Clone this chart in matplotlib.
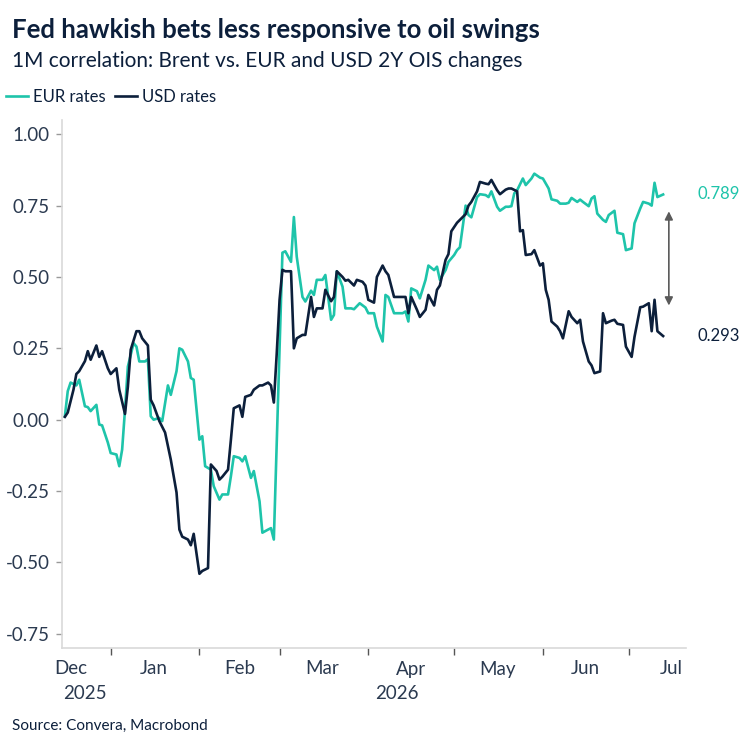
import matplotlib
matplotlib.use("Agg")
import matplotlib.pyplot as plt
import matplotlib.dates as mdates
import matplotlib.transforms as mtrans
import pandas as pd

plt.rcParams["font.family"] = ["Lato", "DejaVu Sans"]

START = pd.Timestamp("2025-12-15")

# days after 15 Dec 2025
usd_days = [1, 2, 4, 5, 6, 8, 9, 10, 12, 13, 14, 16, 17, 19, 20, 22, 23, 24, 26, 27,
            28, 30, 31, 32, 34, 36, 38, 40, 41, 42, 44, 45, 46, 48, 49, 51, 52, 54, 55, 56,
            58, 59, 60, 62, 63, 64, 66, 67, 69, 70, 72, 73, 74, 75, 76, 77, 78, 80, 81, 82,
            84, 85, 87, 88, 89, 91, 92, 94, 95, 96, 98, 99, 100, 102, 103, 105, 106, 107, 109, 110,
            112, 113, 114, 116, 117, 119, 120, 121, 122, 124, 125, 127, 128, 130, 131, 132, 134, 135, 136, 138,
            139, 141, 142, 143, 145, 146, 148, 149, 150, 152, 153, 155, 156, 157, 159, 160, 161, 162, 164, 165,
            167, 168, 169, 170, 171, 173, 174, 175, 177, 178, 180, 181, 182, 184, 185, 186, 188, 189, 190, 192,
            193, 194, 196, 197, 199, 200, 202, 203, 205, 206, 207, 208, 210]
usd_vals = [0.01, 0.025, 0.105, 0.16, 0.17, 0.205, 0.24, 0.21, 0.26, 0.22, 0.24, 0.18, 0.16, 0.18, 0.105, 0.02, 0.115, 0.245, 0.31, 0.31,
            0.285, 0.26, 0.07, 0.05, -0.005, -0.045, -0.14, -0.255, -0.385, -0.41, -0.42, -0.44, -0.40, -0.54, -0.53, -0.52, -0.157, -0.18, -0.21, -0.20,
            -0.175, -0.07, 0.04, 0.05, 0.01, 0.08, 0.087, 0.105, 0.12, 0.12, 0.13, 0.12, 0.06, 0.23, 0.42, 0.525, 0.52, 0.52, 0.25, 0.285,
            0.297, 0.297, 0.43, 0.36, 0.39, 0.39, 0.455, 0.415, 0.43, 0.52, 0.50, 0.487, 0.49, 0.47, 0.49, 0.483, 0.47, 0.42, 0.41, 0.50,
            0.54, 0.52, 0.507, 0.43, 0.43, 0.43, 0.43, 0.373, 0.43, 0.385, 0.36, 0.385, 0.437, 0.40, 0.455, 0.47, 0.56, 0.58, 0.66, 0.69,
            0.70, 0.72, 0.75, 0.763, 0.80, 0.833, 0.827, 0.825, 0.84, 0.804, 0.79, 0.806, 0.81, 0.81, 0.80, 0.66, 0.664, 0.577, 0.58, 0.594,
            0.54, 0.548, 0.455, 0.42, 0.344, 0.326, 0.31, 0.285, 0.38, 0.36, 0.338, 0.35, 0.274, 0.204, 0.19, 0.163, 0.169, 0.373, 0.338, 0.347,
            0.35, 0.336, 0.332, 0.256, 0.22, 0.29, 0.394, 0.396, 0.408, 0.31, 0.42, 0.31, 0.293]

eur_days = [1, 2, 3, 5, 6, 8, 9, 10, 12, 13, 14, 16, 17, 19, 20, 21, 22, 23, 25, 26,
            27, 29, 30, 31, 32, 34, 35, 37, 38, 40, 41, 42, 44, 45, 46, 48, 49, 50, 52, 53,
            55, 56, 58, 59, 60, 62, 63, 64, 66, 67, 69, 70, 72, 73, 74, 77, 78, 80, 81, 82,
            84, 85, 87, 88, 89, 91, 92, 94, 95, 96, 98, 99, 101, 102, 104, 106, 107, 109, 110, 112,
            113, 114, 116, 117, 119, 120, 121, 122, 124, 125, 127, 128, 130, 131, 132, 134, 135, 137, 138, 139,
            141, 142, 143, 145, 146, 148, 149, 150, 152, 153, 155, 156, 157, 158, 159, 161, 162, 164, 165, 167,
            168, 170, 171, 173, 174, 176, 177, 178, 180, 181, 182, 184, 185, 186, 187, 189, 190, 191, 193, 194,
            196, 197, 199, 200, 202, 203, 205, 206, 207, 208, 210]
eur_vals = [0.012, 0.10, 0.13, 0.12, 0.14, 0.047, 0.044, 0.03, 0.052, -0.017, -0.02, -0.08, -0.117, -0.122, -0.163, -0.105, 0.035, 0.186, 0.268, 0.256,
            0.204, 0.204, 0.212, 0.012, 0.0, 0.006, -0.005, 0.12, 0.087, 0.17, 0.25, 0.245, 0.204, 0.146, 0.14, -0.07, -0.058, -0.163, -0.175, -0.233,
            -0.28, -0.262, -0.262, -0.198, -0.128, -0.134, -0.146, -0.128, -0.204, -0.18, -0.286, -0.396, -0.385, -0.38, -0.42, 0.585, 0.59, 0.553, 0.71, 0.571,
            0.43, 0.414, 0.452, 0.437, 0.49, 0.49, 0.507, 0.35, 0.367, 0.52, 0.466, 0.39, 0.39, 0.387, 0.408, 0.393, 0.373, 0.373, 0.326, 0.274,
            0.437, 0.43, 0.373, 0.373, 0.373, 0.379, 0.344, 0.46, 0.45, 0.425, 0.49, 0.54, 0.524, 0.536, 0.49, 0.524, 0.553, 0.577, 0.594, 0.604,
            0.75, 0.717, 0.709, 0.78, 0.79, 0.787, 0.78, 0.80, 0.746, 0.732, 0.746, 0.746, 0.748, 0.793, 0.804, 0.845, 0.822, 0.845, 0.862, 0.848,
            0.845, 0.81, 0.772, 0.767, 0.757, 0.757, 0.76, 0.777, 0.763, 0.771, 0.763, 0.748, 0.775, 0.783, 0.722, 0.70, 0.693, 0.717, 0.732, 0.655,
            0.65, 0.594, 0.60, 0.688, 0.74, 0.763, 0.757, 0.75, 0.83, 0.78, 0.789]

TEAL = "#1ec4aa"
NAVY = "#0c1f3b"
TICK = "#2b3a50"

usd_dates = START + pd.to_timedelta(usd_days, unit="D")
eur_dates = START + pd.to_timedelta(eur_days, unit="D")

fig = plt.figure(figsize=(7.5, 7.5), dpi=100)
ax = fig.add_axes([0.0827, 0.136, 0.832, 0.704])

ax.plot(eur_dates, eur_vals, color=TEAL, lw=1.9, label="EUR rates")
ax.plot(usd_dates, usd_vals, color=NAVY, lw=1.9, label="USD rates")

ax.set_ylim(-0.80, 1.05)
ax.set_xlim(START, pd.Timestamp("2026-07-21"))
ax.set_yticks([-0.75, -0.5, -0.25, 0, 0.25, 0.5, 0.75, 1.0])
ax.set_yticklabels(["-0.75", "-0.50", "-0.25", "0.00", "0.25", "0.50", "0.75", "1.00"])

# month ticks at month starts, labels mid-month
ax.xaxis.set_major_locator(mdates.MonthLocator())
ax.xaxis.set_major_formatter(plt.NullFormatter())
label_dates = pd.to_datetime(["2025-12-18", "2026-01-16", "2026-02-15", "2026-03-16",
                              "2026-04-16", "2026-05-16", "2026-06-16", "2026-07-16"])
ax.xaxis.set_minor_locator(plt.FixedLocator(mdates.date2num(label_dates)))
ax.xaxis.set_minor_formatter(mdates.DateFormatter("%b"))
ax.tick_params(axis="x", which="major", length=5, color="#555555", width=1)
ax.tick_params(axis="x", which="minor", length=0, pad=9, labelsize=13.5, labelcolor=TICK)
ax.tick_params(axis="y", length=4, color="#999999", width=1, labelsize=13.5, labelcolor=TICK, pad=5)

for s in ["top", "right"]:
    ax.spines[s].set_visible(False)
for s in ["left", "bottom"]:
    ax.spines[s].set_color("#d9d9d9")
    ax.spines[s].set_linewidth(1.2)

yr = mtrans.blended_transform_factory(ax.transData, ax.transAxes)
ax.text(pd.Timestamp("2025-12-23"), -0.07, "2025", transform=yr, ha="center", va="top",
        fontsize=13.5, color=TICK)
ax.text(pd.Timestamp("2026-04-11"), -0.07, "2026", transform=yr, ha="center", va="top",
        fontsize=13.5, color=TICK)

# end-value labels and gap arrow
lab = mtrans.blended_transform_factory(ax.transAxes, ax.transData)
ax.text(1.018, eur_vals[-1], f"{eur_vals[-1]:.3f}", transform=lab, color=TEAL,
        fontsize=12, va="center", ha="left")
ax.text(1.018, usd_vals[-1], f"{usd_vals[-1]:.3f}", transform=lab, color=NAVY,
        fontsize=12, va="center", ha="left")
ax.annotate("", xy=(pd.Timestamp("2026-07-15"), 0.40), xytext=(pd.Timestamp("2026-07-15"), 0.73),
            arrowprops=dict(arrowstyle="<|-|>", color="#5a5a5a", lw=1.2,
                            mutation_scale=12, shrinkA=0, shrinkB=0))

fig.text(0.016, 0.949, "Fed hawkish bets less responsive to oil swings", fontsize=18.5,
         fontweight="bold", color=NAVY, va="baseline")
fig.text(0.016, 0.911, "1M correlation: Brent vs. EUR and USD 2Y OIS changes", fontsize=15,
         color=NAVY, va="baseline")
fig.legend(loc="center left", bbox_to_anchor=(0.008, 1 - 97 / 750), ncol=2, frameon=False,
           handlelength=1.3, handletextpad=0.3, columnspacing=0.6, borderaxespad=0,
           borderpad=0, fontsize=12, labelcolor=NAVY)
fig.text(0.016, 0.027, "Source: Convera, Macrobond", fontsize=11, color=NAVY, va="baseline")

fig.savefig("out.png", dpi=100)
